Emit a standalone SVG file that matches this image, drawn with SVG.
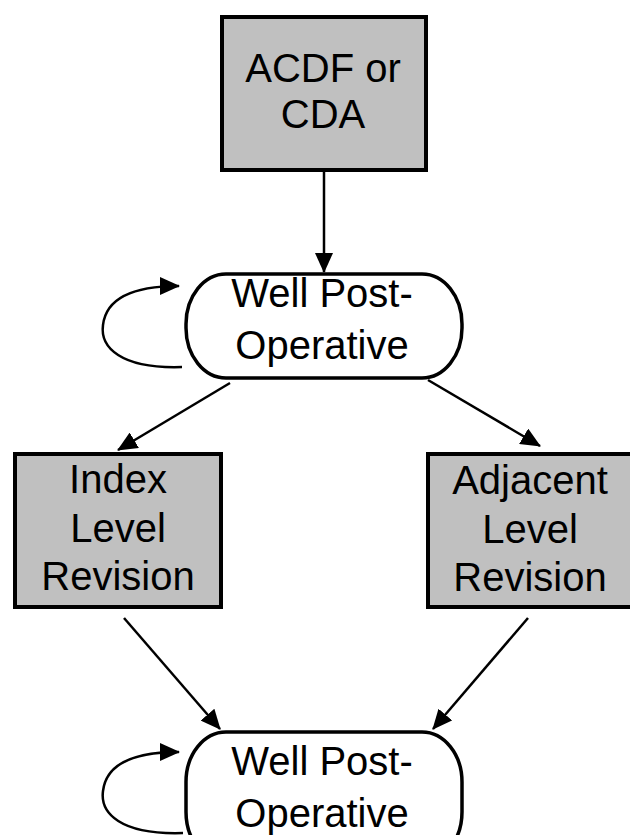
<svg xmlns="http://www.w3.org/2000/svg" width="630" height="835" viewBox="0 0 630 835">
<defs>
<style>
.box{fill:#c0c0c0;stroke:#000;stroke-width:4}
.pill{fill:#fff;stroke:#000;stroke-width:3.5}
.t{font-family:"Liberation Sans",Arial,sans-serif;font-size:40px;fill:#000;text-anchor:middle}
.c{fill:none;stroke:#000;stroke-width:2.5}
</style>
<marker id="a" markerWidth="20" markerHeight="18" refX="19" refY="9" orient="auto" markerUnits="userSpaceOnUse" viewBox="0 0 20 18">
<path d="M0,0 L20,9 L0,18 Z" fill="#000"/>
</marker>
</defs>
<rect width="630" height="835" fill="#fff"/>
<g id="acdf">
<rect class="box" x="222" y="17" width="204" height="153"/>
<text class="t" x="323" y="82">ACDF or</text>
<text class="t" x="323" y="128">CDA</text>
</g>
<g id="well1">
<rect class="pill" x="186" y="274" width="276" height="104" rx="40" ry="50"/>
<text class="t" x="322" y="307">Well Post-</text>
<text class="t" x="322" y="359">Operative</text>
</g>
<g id="index">
<rect class="box" x="15" y="454" width="206" height="153"/>
<text class="t" x="118" y="493">Index</text>
<text class="t" x="118" y="542">Level</text>
<text class="t" x="118" y="590">Revision</text>
</g>
<g id="adjacent">
<rect class="box" x="428" y="454" width="210" height="153"/>
<text class="t" x="530" y="494">Adjacent</text>
<text class="t" x="530" y="543">Level</text>
<text class="t" x="530" y="591">Revision</text>
</g>
<g id="well2">
<rect class="pill" x="186" y="732" width="276" height="130" rx="40" ry="50"/>
<text class="t" x="322" y="775">Well Post-</text>
<text class="t" x="322" y="827">Operative</text>
</g>
<g id="connectors">
<path class="c" d="M324,172 L324,272" marker-end="url(#a)"/>
<path class="c" d="M182,367 C120,369 100,347 103,325 C106,300 130,286 179,286" marker-end="url(#a)"/>
<path class="c" d="M230,383 L118,450" marker-end="url(#a)"/>
<path class="c" d="M428,380 L540,446" marker-end="url(#a)"/>
<path class="c" d="M124,618 L220,729" marker-end="url(#a)"/>
<path class="c" d="M528,618 L433,729" marker-end="url(#a)"/>
<path class="c" d="M183,833 C120,835 100,813 103,791 C106,766 130,752 179,752" marker-end="url(#a)"/>
</g>
</svg>
